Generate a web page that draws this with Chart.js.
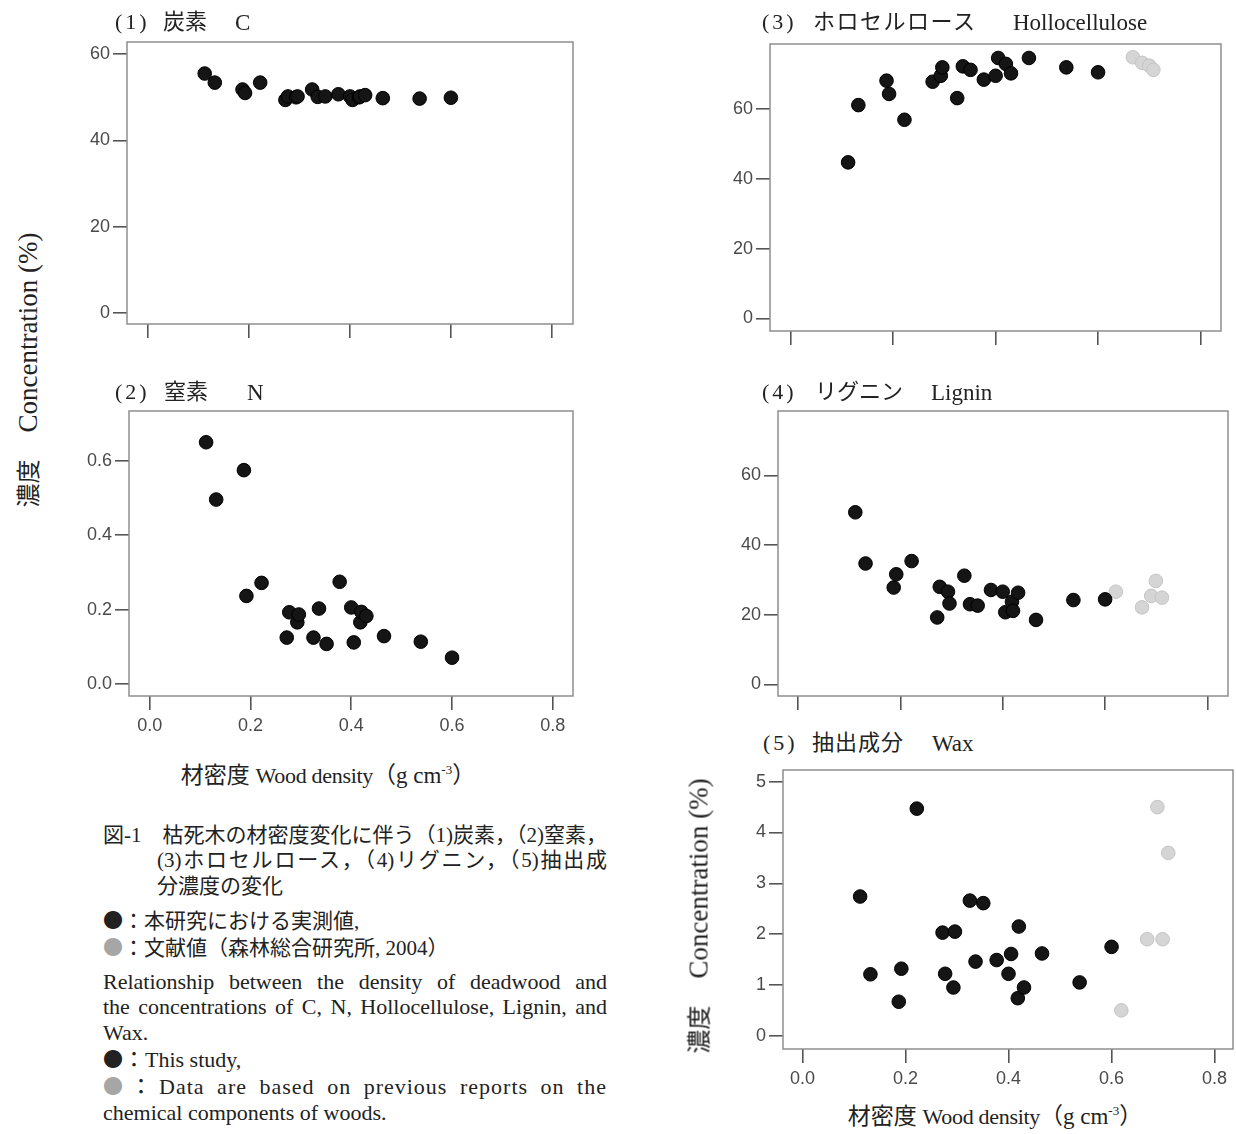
<!DOCTYPE html>
<html lang="ja">
<head>
<meta charset="utf-8">
<script src="https://cdn.jsdelivr.net/npm/chart.js@4.4.1/dist/chart.umd.min.js"></script>
<style>
  body { margin: 0; width: 1236px; height: 1134px; background: #fff; position: relative; overflow: hidden;
         font-family: "Liberation Serif", "Noto Sans CJK JP", serif; color: #222; }
  canvas { position: absolute; }
  .t { position: absolute; white-space: nowrap; line-height: 1; font-size: 22px; }
  .en { font-size: 23px; }
  .num { letter-spacing: 3px; }
  .ylab { position: absolute; white-space: nowrap; line-height: 1; font-size: 27px;
          transform: translate(-50%, -50%) rotate(-90deg); }
  .ylab .k { font-size: 24px; }
  .xlab { position: absolute; white-space: nowrap; line-height: 1; font-size: 23px; transform: translateX(-50%); }
  .xlab .w { font-size: 22px; letter-spacing: -0.3px; }
  .cap { position: absolute; left: 103px; width: 504px; font-size: 21px; line-height: 1; white-space: nowrap; }
  .cap.e { font-size: 22px; }
  .j { text-align: justify; text-align-last: justify; white-space: normal; }
  .dot { font-family: "Noto Sans CJK JP"; font-size: 20px; }
  .gray { color: #a6a6a6; }
</style>
</head>
<body>
<canvas id="pC"></canvas>
<canvas id="pN"></canvas>
<canvas id="pH"></canvas>
<canvas id="pL"></canvas>
<canvas id="pW"></canvas>

<!-- panel titles -->
<div class="t num" style="left:115px;top:11px">(1)</div>
<div class="t" style="left:163px;top:11px">炭素</div>
<div class="t en" style="left:235px;top:11px">C</div>

<div class="t num" style="left:115px;top:381px">(2)</div>
<div class="t" style="left:164px;top:381px">窒素</div>
<div class="t en" style="left:247px;top:381px">N</div>

<div class="t num" style="left:762px;top:11px">(3)</div>
<div class="t" style="left:813px;top:11px;letter-spacing:1.5px">ホロセルロース</div>
<div class="t en" style="left:1013px;top:11px">Hollocellulose</div>

<div class="t num" style="left:762px;top:381px">(4)</div>
<div class="t" style="left:815px;top:381px">リグニン</div>
<div class="t en" style="left:931px;top:381px">Lignin</div>

<div class="t num" style="left:763px;top:732px">(5)</div>
<div class="t" style="left:812px;top:732px;letter-spacing:1px">抽出成分</div>
<div class="t en" style="left:932px;top:732px">Wax</div>

<!-- axis titles -->
<div class="ylab" style="left:28px;top:370px"><span class="k">濃度</span>　Concentration (%)</div>
<div class="ylab" style="left:699px;top:916px"><span class="k">濃度</span>　Concentration (%)</div>
<div class="xlab" style="left:328px;top:763px">材密度 <span class="w">Wood density</span>（g cm<sup style="font-size:13px">-3</sup>）</div>
<div class="xlab" style="left:995px;top:1104px">材密度 <span class="w">Wood density</span>（g cm<sup style="font-size:13px">-3</sup>）</div>

<!-- caption -->
<div class="cap j" style="top:825px">図-1　枯死木の材密度変化に伴う（1)炭素，（2)窒素，</div>
<div class="cap j" style="top:850px;left:157px;width:450px">(3)ホロセルロース，（4)リグニン，（5)抽出成</div>
<div class="cap" style="top:876px;left:157px">分濃度の変化</div>
<div class="cap" style="top:910px"><span class="dot">●</span>：本研究における実測値,</div>
<div class="cap" style="top:937px"><span class="dot gray">●</span>：文献値（森林総合研究所, 2004）</div>
<div class="cap e j" style="top:971px">Relationship between the density of deadwood and</div>
<div class="cap e j" style="top:996px">the concentrations of C, N, Hollocellulose, Lignin, and</div>
<div class="cap e" style="top:1022px">Wax.</div>
<div class="cap e" style="top:1049px"><span class="dot">●</span>：This study,</div>
<div class="cap e j" style="top:1076px;letter-spacing:1px"><span class="dot gray">●</span>：Data are based on previous reports on the</div>
<div class="cap e" style="top:1102px">chemical components of woods.</div>

<script>
// wood density of the measured samples (g cm-3)
const density = [0.112, 0.132, 0.187, 0.192, 0.222, 0.272, 0.277, 0.293, 0.296, 0.325, 0.336,
                 0.351, 0.377, 0.400, 0.405, 0.418, 0.420, 0.430, 0.465, 0.538, 0.600];

// concentrations (%) for each sample, this study
const carbon = [55.5, 53.4, 51.8, 51.0, 53.4, 49.4, 50.2, 50.0, 50.2, 51.8, 50.1,
                50.2, 50.7, 50.2, 49.4, 50.0, 50.2, 50.5, 49.8, 49.7, 49.9];
const nitrogen = [0.650, 0.496, 0.575, 0.237, 0.272, 0.125, 0.193, 0.166, 0.187, 0.125, 0.203,
                  0.108, 0.275, 0.206, 0.112, 0.166, 0.194, 0.183, 0.129, 0.114, 0.071];
const holocellulose = [44.7, 61.1, 68.1, 64.3, 56.9, null, 67.8, 69.5, 71.9, 63.1, 72.2,
                       71.2, 68.4, 69.5, 74.6, null, 72.9, 70.2, 74.6, 71.9, 70.5];
const lignin = [49.4, 34.7, 27.8, 31.6, 35.4, 19.2, 28.0, 26.6, 23.2, 31.2, 23.0,
                22.6, 27.1, 26.6, 20.7, 23.7, 21.1, 26.3, 18.5, 24.2, 24.4];
const wax = [2.74, 1.21, 0.67, 1.32, 4.47, 2.03, 1.22, 0.95, 2.05, 2.66, 1.46,
             2.61, 1.49, 1.22, 1.61, 0.74, 2.15, 0.95, 1.62, 1.05, 1.75];

// literature values (gray)
const holoRefDensity = [0.668, 0.686, 0.700, 0.708];
const holoRef = [74.8, 73.2, 72.4, 71.2];
const ligninRefDensity = [0.621, 0.672, 0.690, 0.699, 0.711];
const ligninRef = [26.6, 22.1, 25.4, 29.7, 24.9];
const waxRefDensity = [0.619, 0.669, 0.689, 0.699, 0.710];
const waxRef = [0.50, 1.90, 4.50, 1.90, 3.60];

// tick values
const densityTicks = [0, 0.2, 0.4, 0.6, 0.8];
const carbonTicks = [0, 20, 40, 60];
const nitrogenTicks = [0, 0.2, 0.4, 0.6];
const holoTicks = [0, 20, 40, 60];
const ligninTicks = [0, 20, 40, 60];
const waxTicks = [0, 1, 2, 3, 4, 5];

const pts = (xs, ys) => xs.map((x, i) => ({ x: x, y: ys[i] })).filter(p => p.y !== null);

// draws the box round the plot area
const frame = {
  id: "frame",
  beforeDatasetsDraw(chart) {
    const a = chart.chartArea, ctx = chart.ctx;
    ctx.save();
    ctx.strokeStyle = "#8e8e8e";
    ctx.lineWidth = 1.5;
    ctx.strokeRect(a.left, a.top, a.right - a.left, a.bottom - a.top);
    ctx.restore();
  }
};

function panel(id, box, xr, yr, yTicks, yDec, showX, own, ref) {
  const padL = 72, padT = 14, padR = 8, padB = showX ? 50 : 22;
  const c = document.getElementById(id);
  const w = box.r - box.l + padL + padR, h = box.b - box.t + padT + padB;
  c.width = w; c.height = h;
  c.style.left = (box.l - padL) + "px";
  c.style.top = (box.t - padT) + "px";

  const tickFont = { family: "Liberation Sans", size: 18 };
  const sets = [{
    data: own, pointRadius: 6.8, backgroundColor: "#151515", borderColor: "#000", borderWidth: 1
  }];
  if (ref) sets.push({
    data: ref, pointRadius: 6.8, backgroundColor: "#d5d5d5", borderColor: "#c4c4c4", borderWidth: 1
  });

  new Chart(c, {
    type: "scatter",
    data: { datasets: sets },
    plugins: [frame],
    options: {
      responsive: false,
      animation: false,
      layout: { padding: { left: 0, top: padT, right: padR, bottom: 0 } },
      plugins: { legend: { display: false }, tooltip: { enabled: false } },
      scales: {
        x: {
          type: "linear", min: xr[0], max: xr[1],
          afterBuildTicks: s => { s.ticks = densityTicks.map(v => ({ value: v })); },
          afterFit: s => { s.height = padB; },
          grid: { drawOnChartArea: false, tickLength: 14, color: "#555", lineWidth: 1.6 },
          border: { display: false },
          ticks: { display: showX, padding: 5, color: "#4a4a4a", font: tickFont,
                   callback: v => v.toFixed(1) }
        },
        y: {
          type: "linear", min: yr[0], max: yr[1],
          afterBuildTicks: s => { s.ticks = yTicks.map(v => ({ value: v })); },
          afterFit: s => { s.width = padL; },
          grid: { drawOnChartArea: false, tickLength: 14, color: "#555", lineWidth: 1.6 },
          border: { display: false },
          ticks: { padding: 3, color: "#4a4a4a", font: tickFont,
                   callback: v => v.toFixed(yDec) }
        }
      }
    }
  });
}

panel("pC", { l: 127, t: 42, r: 573, b: 324 }, [-0.042, 0.842], [-2.48, 62.8], carbonTicks, 0, false,
      pts(density, carbon));
panel("pN", { l: 129, t: 411, r: 573, b: 696 }, [-0.041, 0.84], [-0.032, 0.734], nitrogenTicks, 1, true,
      pts(density, nitrogen));
panel("pH", { l: 770, t: 44, r: 1221, b: 331 }, [-0.0405, 0.84], [-3.6, 78.6], holoTicks, 0, false,
      pts(density, holocellulose), pts(holoRefDensity, holoRef));
panel("pL", { l: 778, t: 411, r: 1228, b: 696 }, [-0.039, 0.84], [-3.36, 78.5], ligninTicks, 0, false,
      pts(density, lignin), pts(ligninRefDensity, ligninRef));
panel("pW", { l: 783, t: 770, r: 1233, b: 1049 }, [-0.0377, 0.8357], [-0.26, 5.23], waxTicks, 0, true,
      pts(density, wax), pts(waxRefDensity, waxRef));
</script>
</body>
</html>
